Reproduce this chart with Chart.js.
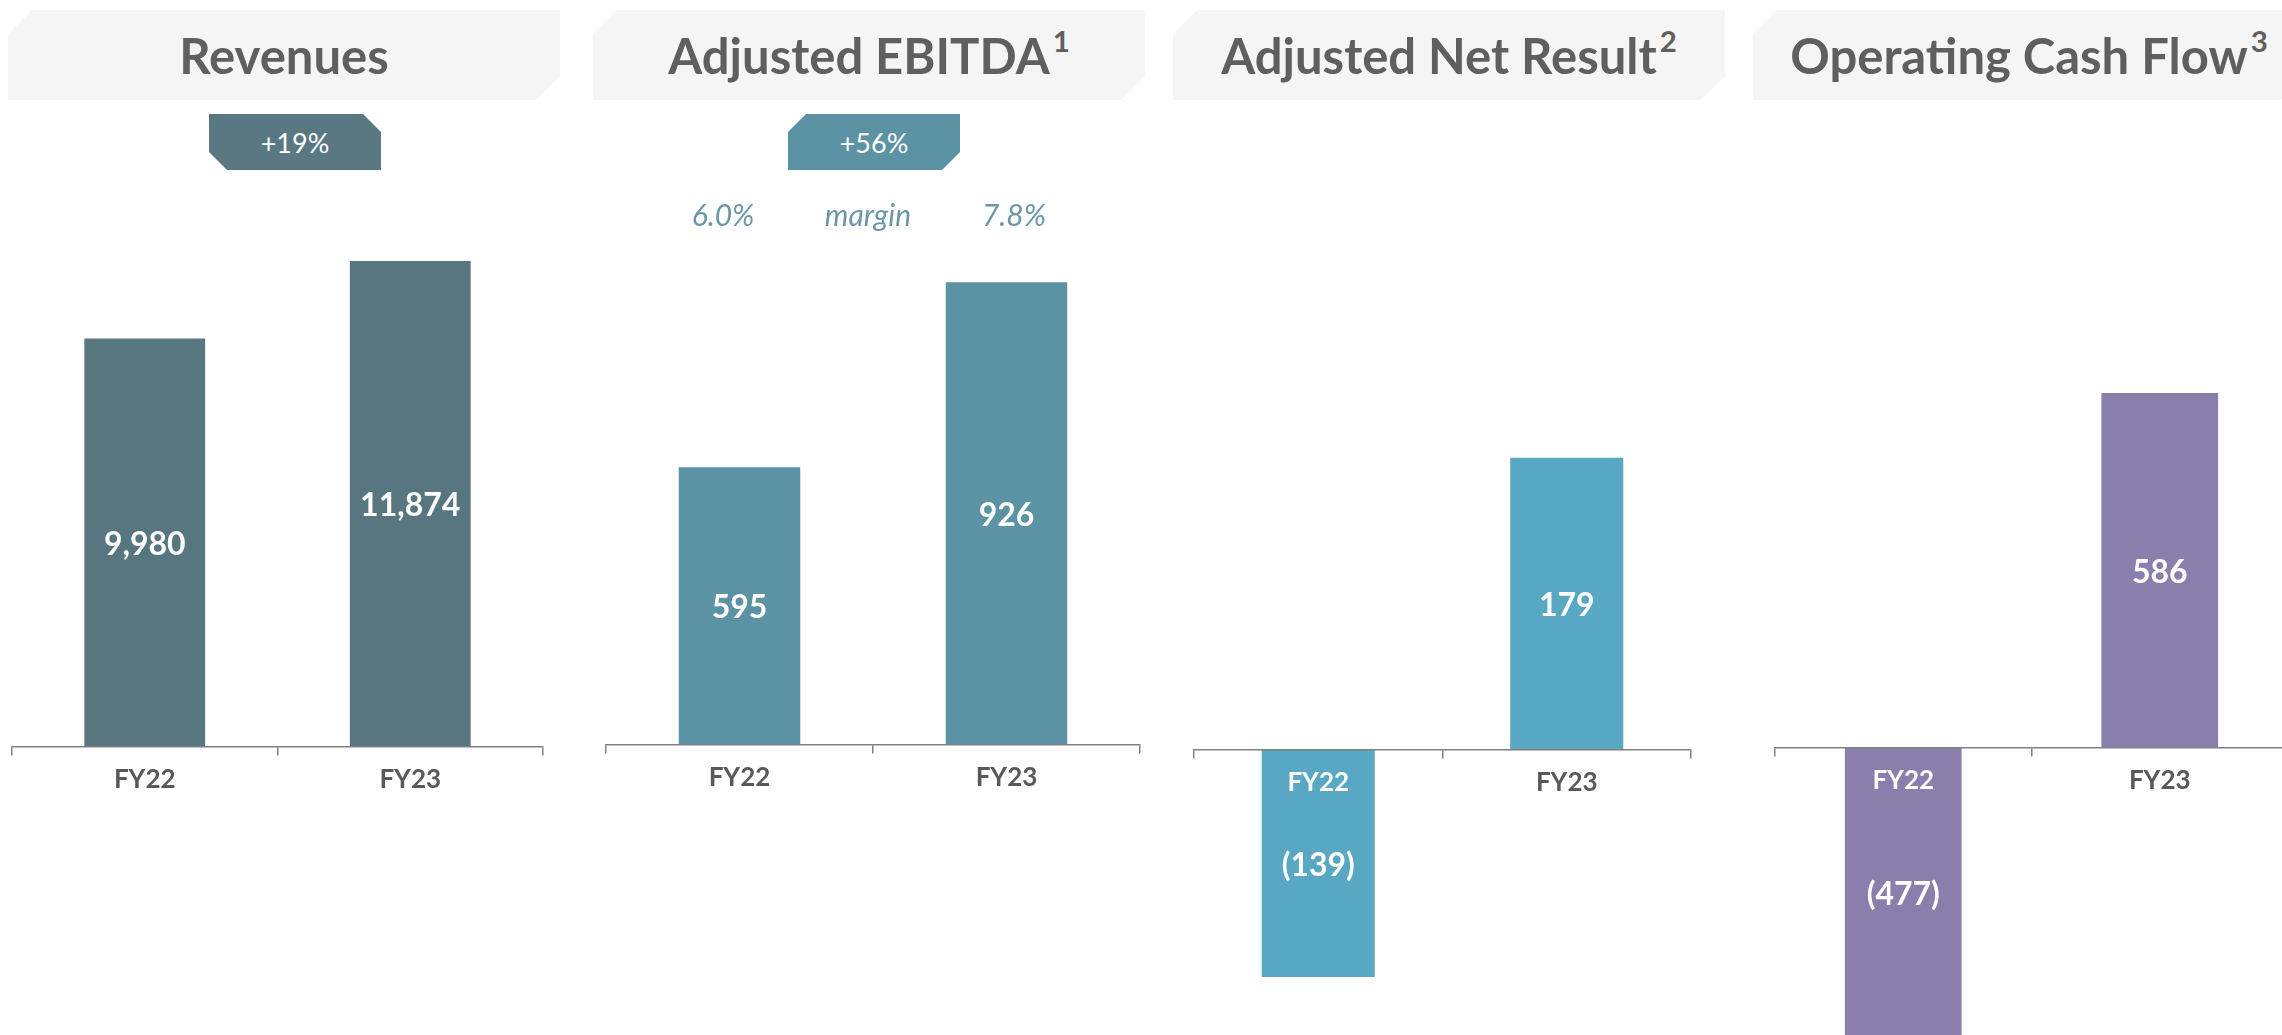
<!DOCTYPE html>
<html>
<head>
<meta charset="utf-8">
<script src="https://cdn.jsdelivr.net/npm/chart.js@4/dist/chart.umd.min.js"></script>
<style>
  html, body { margin: 0; padding: 0; background: #fff; overflow: hidden; }
  body { width: 2282px; height: 1035px; position: relative; font-family: Lato, 'Open Sans', sans-serif; }
  .header {
    position: absolute; top: 10px; width: 552px; height: 90px; background: #f5f5f5; color: #5f5f5f;
    font-weight: bold; font-size: 49px; display: flex; align-items: center; justify-content: center;
    clip-path: polygon(24px 0, 100% 0, 100% 66px, calc(100% - 24px) 100%, 0 100%, 0 24px);
    z-index: 2;
  }
  .header sup { font-size: 0.6em; vertical-align: baseline; position: relative; top: -0.5em; margin-left: 3px; }
  .badge {
    position: absolute; top: 114px; width: 172px; height: 56px; color: #fff; font-size: 27px;
    display: flex; align-items: center; justify-content: center; z-index: 2;
  }
  .cutRight { clip-path: polygon(0 0, calc(100% - 18px) 0, 100% 18px, 100% 100%, 18px 100%, 0 calc(100% - 18px)); }
  .cutLeft { clip-path: polygon(18px 0, 100% 0, 100% calc(100% - 18px), calc(100% - 18px) 100%, 0 100%, 0 18px); }
  .margin { position: absolute; top: 196px; font-style: italic; font-size: 30px; color: #6b97a7; transform: translateX(-50%); z-index: 2; }
  .panel { position: absolute; top: 0; height: 1035px; }
</style>
</head>
<body>

<div class="header" style="left:8px">Revenues</div>
<div class="header" style="left:593px">Adjusted EBITDA<sup>1</sup></div>
<div class="header" style="left:1173px">Adjusted Net Result<sup>2</sup></div>
<div class="header" style="left:1753px">Operating Cash Flow<sup>3</sup></div>

<div class="badge cutRight" id="badge1" style="left:209px;background:#5a7882"></div>
<div class="badge cutLeft" id="badge2" style="left:788px;background:#5b93a5"></div>

<div class="margin" id="m1" style="left:723px"></div>
<div class="margin" style="left:868px">margin</div>
<div class="margin" id="m2" style="left:1014px"></div>

<div class="panel" style="left:2px;width:551px"><canvas id="revenues"></canvas></div>
<div class="panel" style="left:596px;width:554px"><canvas id="ebitda"></canvas></div>
<div class="panel" style="left:1184px;width:517px"><canvas id="netResult"></canvas></div>
<div class="panel" style="left:1765px;width:533px"><canvas id="cashFlow"></canvas></div>

<script>
// datos
const categories = ['FY22', 'FY23'];
const revenues = [9980, 11874];
const ebitda = [595, 926];
const netResult = [-139, 179];
const cashFlow = [-477, 586];
const growth = ['+19%', '+56%'];
const ebitdaMargin = ['6.0%', '7.8%'];

document.getElementById('badge1').textContent = growth[0];
document.getElementById('badge2').textContent = growth[1];
document.getElementById('m1').textContent = ebitdaMargin[0];
document.getElementById('m2').textContent = ebitdaMargin[1];

const AREA_TOP = 150;
const AREA_BOTTOM = 1035;

// valor negativo entre parentesis
function formatValue(v) {
  const txt = Math.abs(v).toLocaleString('en-US');
  return v < 0 ? '(' + txt + ')' : txt;
}

const valueLabels = {
  id: 'valueLabels',
  afterDatasetsDraw(chart) {
    const ctx = chart.ctx;
    const meta = chart.getDatasetMeta(0);
    ctx.save();
    ctx.fillStyle = '#ffffff';
    ctx.font = 'bold 32px Lato';
    ctx.textAlign = 'center';
    ctx.textBaseline = 'middle';
    meta.data.forEach((bar, i) => {
      ctx.fillText(formatValue(chart.data.datasets[0].data[i]), bar.x, (bar.y + bar.base) / 2 + 2);
    });
    ctx.restore();
  }
};

function drawPanel(id, values, color, axisY, pxPerUnit, base, whiteFirst) {
  const yMin = base - (AREA_BOTTOM - axisY) / pxPerUnit;
  const yMax = base + (axisY - AREA_TOP) / pxPerUnit;
  const ctx = document.getElementById(id).getContext('2d');
  new Chart(ctx, {
    type: 'bar',
    data: {
      labels: categories,
      datasets: [{
        data: values,
        backgroundColor: color,
        base: base,
        barPercentage: 0.455,
        categoryPercentage: 1
      }]
    },
    options: {
      responsive: true,
      maintainAspectRatio: false,
      animation: false,
      layout: { padding: { top: AREA_TOP, bottom: 0, left: 10, right: 10 } },
      plugins: {
        legend: { display: false },
        tooltip: { enabled: false }
      },
      scales: {
        x: {
          position: { y: base },
          grid: {
            offset: true,
            drawOnChartArea: false,
            drawTicks: true,
            tickLength: 8,
            color: '#808080',
            lineWidth: 1.5
          },
          border: { display: true, color: '#808080', width: 1.5, z: 1 },
          ticks: {
            z: 1,
            color: ctx => (whiteFirst && ctx.index === 0) ? '#ffffff' : '#595959',
            font: { family: 'Lato', weight: 'bold', size: 26 },
            padding: 9,
            maxRotation: 0
          }
        },
        y: {
          display: false,
          min: yMin,
          max: yMax
        }
      }
    },
    plugins: [valueLabels]
  });
}

drawPanel('revenues', revenues, '#587680', 747, 486 / 11874, 0, false);
drawPanel('ebitda', ebitda, '#5b93a5', 745, 185 / 331, 98, false);
drawPanel('netResult', netResult, '#58a8c4', 750, 227 / 139, 0, true);
drawPanel('cashFlow', cashFlow, '#8a7fac', 748, 355 / 586, 0, true);
</script>
</body>
</html>
